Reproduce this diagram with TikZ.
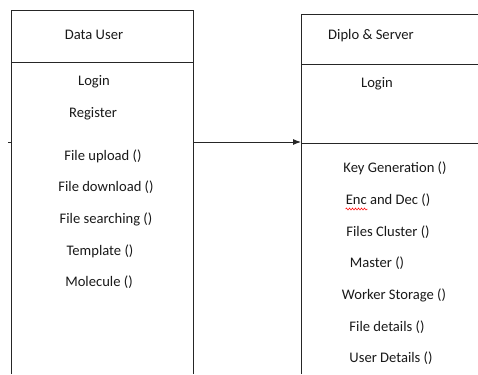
\documentclass[tikz,border=0pt]{standalone}
\usepackage{fontspec}
\setmainfont{Carlito}
\usetikzlibrary{arrows.meta,decorations.pathmorphing}

\tikzset{
	entry/.style={font=\fontsize{14.6}{17}\selectfont, inner sep=0pt, text=black!90},
	frame/.style={draw=black!85, line width=0.9pt},
}

\begin{document}
\begin{tikzpicture}[x=1pt,y=-1pt]

	\useasboundingbox (0,0) rectangle (478,374);

	% left box
	\coordinate (UA) at (11,10);
	\coordinate (UB) at (193,10);
	\coordinate (UC) at (193,374);
	\coordinate (UD) at (11,374);

	\draw[frame] (UD) -- (UA) -- (UB) -- (UC);
	\draw[frame] (11,62) -- (193,62);

	% right box
	\coordinate (SA) at (301,14);
	\coordinate (SB) at (478,14);
	\coordinate (SD) at (301,374);

	\draw[frame] (SD) -- (SA) -- (SB);
	\draw[frame] (301,64) -- (478,64);
	\draw[frame] (301,143) -- (478,143);

	% link
	\coordinate (tick) at (8,142);
	\coordinate (from) at (193,142);
	\coordinate (to) at (301,142);

	\draw[frame] (tick) -- (11,142);
	\draw[frame, -{Latex[length=8pt,width=6pt]}] (from) -- (to);

	\node[entry] (user) at (94,35) {Data User};
	\node[entry] (ulogin) at (94,82) {Login};
	\node[entry] (ureg) at (93,114) {Register};
	\node[entry] (upload) at (103,156) {File upload ()};
	\node[entry] (download) at (106,187) {File download ()};
	\node[entry] (search) at (106,219) {File searching ()};
	\node[entry] (templ) at (100,251) {Template ()};
	\node[entry] (molec) at (99,282) {Molecule ()};

	\node[entry] (server) at (371,36) {Diplo \& Server};
	\node[entry] (slogin) at (377,84) {Login};
	\node[entry] (keygen) at (395,168) {Key Generation ()};
	\node[entry] (encdec) at (388,200) {Enc and Dec ()};
	\node[entry] (cluster) at (388,232) {Files Cluster ()};
	\node[entry] (master) at (377,263) {Master ()};
	\node[entry] (worker) at (394,295) {Worker Storage ()};
	\node[entry] (fdetail) at (387,327) {File details ()};
	\node[entry] (udetail) at (391,358) {User Details ()};

	% spell mark
	\draw[red, line width=0.5pt, decorate, decoration={snake, amplitude=1pt, segment length=3pt}]
		(encdec.south west) ++(0,2.5) -- ++(22,0);

\end{tikzpicture}
\end{document}
